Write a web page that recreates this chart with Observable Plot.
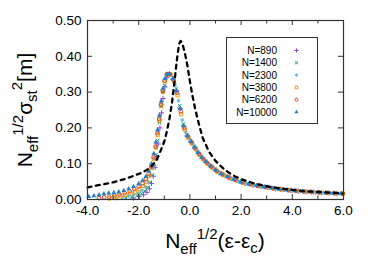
<!DOCTYPE html>
<html><head><meta charset="utf-8">
<script src="https://cdn.jsdelivr.net/npm/d3@7"></script>
<script src="https://cdn.jsdelivr.net/npm/@observablehq/plot@0.6"></script>
<style>html,body{margin:0;padding:0;background:#fff}</style>
</head><body><div id="chart"></div>
<script>
// ---- data (x = Neff^1/2 (ε-εc), y = Neff^1/2 σst^2[m]) ----
const seriesLabels = ["N=890","N=1400","N=2300","N=3800","N=6200","N=10000"];

const n890 = [[-2.2,0.004],[-1.98,0.008],[-1.81,0.013],[-1.68,0.02],[-1.58,0.03],[-1.5,0.045],[-1.43,0.065],[-1.36,0.09],[-1.3,0.12],[-1.24,0.155],[-1.17,0.2],[-1.11,0.242],[-1.05,0.282],[-0.98,0.315],[-0.9,0.34],
 [-0.8,0.35],[-0.66,0.336],[-0.52,0.304],[-0.38,0.254],[-0.24,0.205],[-0.1,0.178],[0.04,0.162],[0.19,0.145],[0.34,0.129],[0.5,0.115],[0.67,0.102],[0.86,0.09],[1.06,0.079],[1.3,0.069],[1.56,0.06],[1.84,0.053],[2.14,0.046],[2.44,0.041],[2.74,0.037],[3.04,0.034],[3.34,0.03],[3.64,0.028],[3.94,0.0255],[4.24,0.0236],[4.54,0.0218],[4.84,0.0206],[5.14,0.0195],[5.44,0.0182],[5.74,0.017]];

const n1400 = [[-2.5,0.004],[-2.27,0.007],[-2.06,0.011],[-1.89,0.016],[-1.75,0.024],[-1.64,0.034],[-1.55,0.048],[-1.47,0.068],[-1.4,0.093],[-1.33,0.125],[-1.26,0.165],[-1.19,0.215],[-1.12,0.26],[-1.05,0.3],[-0.98,0.318],[-0.9,0.345],
 [-0.82,0.35],[-0.68,0.34],[-0.54,0.31],[-0.4,0.262],[-0.26,0.211],[-0.12,0.181],[0.02,0.164],[0.16,0.148],[0.3,0.133],[0.45,0.119],[0.6,0.107],[0.78,0.095],[0.97,0.084],[1.18,0.074],[1.42,0.065],[1.68,0.057],[1.96,0.05],[2.26,0.044],[2.56,0.039],[2.86,0.036],[3.16,0.032],[3.46,0.029],[3.76,0.027],[4.06,0.0246],[4.36,0.0228],[4.66,0.0214],[4.96,0.0202],[5.26,0.019],[5.56,0.0178],[5.86,0.0166]];

const n2300 = [[-2.85,0.003],[-2.62,0.006],[-2.4,0.009],[-2.2,0.013],[-2.02,0.018],[-1.87,0.025],[-1.74,0.035],[-1.63,0.048],[-1.54,0.066],[-1.46,0.088],[-1.38,0.115],[-1.31,0.148],[-1.24,0.188],[-1.17,0.23],[-1.1,0.27],[-1.03,0.31],[-0.96,0.335],[-0.87,0.35],
 [-0.74,0.347],[-0.58,0.32],[-0.44,0.276],[-0.3,0.222],[-0.16,0.188],[-0.02,0.169],[0.12,0.153],[0.27,0.136],[0.42,0.121],[0.58,0.109],[0.75,0.097],[0.94,0.086],[1.14,0.076],[1.38,0.067],[1.62,0.059],[1.9,0.052],[2.2,0.045],[2.5,0.04],[2.8,0.036],[3.1,0.033],[3.4,0.03],[3.7,0.027],[4.0,0.025],[4.3,0.023],[4.6,0.0216],[4.9,0.0204],[5.2,0.0192],[5.5,0.018],[5.8,0.0168]];

const n3800 = [[-3.15,0.003],[-2.93,0.006],[-2.72,0.009],[-2.52,0.013],[-2.32,0.017],[-2.14,0.022],[-1.97,0.029],[-1.83,0.038],[-1.7,0.05],[-1.59,0.066],[-1.49,0.088],[-1.41,0.113],[-1.33,0.145],[-1.26,0.18],[-1.19,0.22],[-1.12,0.262],[-1.05,0.3],[-0.98,0.33],[-0.89,0.35],
 [-0.76,0.349],[-0.62,0.329],[-0.48,0.291],[-0.34,0.238],[-0.2,0.195],[-0.06,0.173],[0.08,0.157],[0.23,0.141],[0.38,0.125],[0.54,0.112],[0.7,0.1],[0.88,0.089],[1.08,0.078],[1.3,0.069],[1.54,0.061],[1.8,0.054],[2.08,0.047],[2.38,0.042],[2.68,0.038],[2.98,0.034],[3.28,0.031],[3.58,0.028],[3.88,0.026],[4.18,0.024],[4.48,0.0221],[4.78,0.0209],[5.08,0.0197],[5.38,0.0185],[5.68,0.0173],[5.98,0.0161]];

const n6200 = [[-3.55,0.004],[-3.35,0.006],[-3.15,0.008],[-2.95,0.011],[-2.75,0.014],[-2.55,0.018],[-2.35,0.023],[-2.17,0.029],[-2.0,0.036],[-1.85,0.045],[-1.72,0.057],[-1.61,0.072],[-1.51,0.092],[-1.42,0.118],[-1.34,0.148],[-1.27,0.185],[-1.2,0.225],[-1.13,0.265],[-1.06,0.303],[-0.99,0.332],[-0.9,0.349],
 [-0.78,0.35],[-0.64,0.334],[-0.5,0.298],[-0.36,0.246],[-0.22,0.2],[-0.08,0.176],[0.06,0.16],[0.2,0.144],[0.35,0.128],[0.5,0.115],[0.66,0.103],[0.84,0.092],[1.04,0.08],[1.26,0.071],[1.5,0.062],[1.76,0.055],[2.04,0.048],[2.34,0.043],[2.64,0.038],[2.94,0.035],[3.24,0.031],[3.54,0.029],[3.84,0.026],[4.14,0.024],[4.44,0.0224],[4.74,0.021],[5.04,0.0198],[5.34,0.0186],[5.64,0.0174],[5.94,0.0162]];

const n10000 = [[-3.95,0.008],[-3.75,0.01],[-3.55,0.013],[-3.36,0.016],[-3.17,0.018],[-2.97,0.019],[-2.78,0.021],[-2.58,0.025],[-2.39,0.03],[-2.2,0.036],[-2.0,0.044],[-1.85,0.053],[-1.72,0.064],[-1.6,0.079],[-1.5,0.1],[-1.41,0.128],[-1.33,0.16],[-1.26,0.195],[-1.19,0.235],[-1.12,0.275],[-1.05,0.31],[-0.97,0.338],[-0.89,0.35],
 [-0.8,0.351],[-0.66,0.337],[-0.52,0.303],[-0.38,0.254],[-0.24,0.206],[-0.1,0.178],[0.04,0.162],[0.18,0.146],[0.32,0.131],[0.46,0.118],[0.62,0.106],[0.8,0.094],[1.0,0.082],[1.22,0.072],[1.46,0.064],[1.72,0.056],[2.0,0.049],[2.3,0.043],[2.6,0.039],[2.9,0.035],[3.2,0.032],[3.5,0.029],[3.8,0.027],[4.1,0.0245],[4.4,0.0226],[4.7,0.0212],[5.0,0.02],[5.3,0.0188],[5.6,0.0176],[5.9,0.0164]];

const dashedCurve = [[-4,0.034],[-3.5,0.041],[-3,0.048],[-2.5,0.058],[-2.2,0.066],[-1.9,0.074],[-1.67,0.083],[-1.5,0.093],[-1.3,0.11],[-1.15,0.135],[-1.0,0.162],[-0.9,0.19],[-0.8,0.225],[-0.7,0.27],[-0.6,0.33],[-0.5,0.395],[-0.42,0.435],[-0.36,0.443],[-0.3,0.437],[-0.2,0.41],[-0.1,0.375],[0,0.33],[0.1,0.29],[0.2,0.255],[0.3,0.225],[0.4,0.198],[0.5,0.172],[0.75,0.133],[1.0,0.108],[1.25,0.09],[1.5,0.076],[1.75,0.065],[2,0.057],[2.5,0.045],[3,0.037],[3.5,0.031],[4,0.027],[4.5,0.023],[5,0.021],[5.5,0.019],[6,0.017]];

const xMajorTicks = [-4,-2,0,2,4,6];
const xMinorTicks = [-3,-1,1,3,5];
const yTicks = [0,0.1,0.2,0.3,0.4,0.5];

// ---- styles ----
const seriesData = [n890, n1400, n2300, n3800, n6200, n10000];
const styles = [
  {symbol:"plus",     color:"#a040e0", filled:false, d3s:d3.symbolPlus},
  {symbol:"times",    color:"#139e78", filled:false, d3s:d3.symbolTimes},
  {symbol:"asterisk", color:"#56b4e9", filled:false, d3s:d3.symbolAsterisk},
  {symbol:"square",   color:"#e6a000", filled:false, d3s:d3.symbolSquare},
  {symbol:"circle",   color:"#e8402a", filled:false, d3s:d3.symbolCircle},
  {symbol:"triangle", color:"#2a7fc0", filled:true,  d3s:d3.symbolTriangle}
];
const R = 1.85;

const W = 374, H = 262, ML = 87, MR = 31, MT = 20, MB = 63;
const fw = W - ML - MR, fh = H - MT - MB;
const frameColor = "#333";

const dotMarks = seriesData.map((data, i) => {
  const s = styles[i];
  return Plot.dot(data, {
    x: d => d[0], y: d => d[1], symbol: s.symbol, r: R,
    stroke: s.filled ? "none" : s.color, fill: s.filled ? s.color : "none",
    strokeWidth: 1
  });
});

const svg = Plot.plot({
  width: W, height: H,
  marginLeft: ML, marginRight: MR, marginTop: MT, marginBottom: MB,
  style: {fontFamily: "'Liberation Sans', Arial, sans-serif", fontSize: "13.5px", color: "black", background: "white"},
  x: {domain: [-4, 6], axis: null},
  y: {domain: [0, 0.5], axis: null},
  marks: [
    ...dotMarks,
    Plot.line(dashedCurve, {x: d => d[0], y: d => d[1], stroke: "black", strokeWidth: 2.3, strokeDasharray: "4,4.5"}),
    Plot.frame({stroke: frameColor, strokeWidth: 1.2}),
    // inward ticks
    Plot.tickX(xMajorTicks, {x: d => d, insetTop: fh - 5, stroke: frameColor}),
    Plot.tickX(xMinorTicks, {x: d => d, insetTop: fh - 3.5, stroke: frameColor}),
    Plot.tickX(xMajorTicks, {x: d => d, insetBottom: fh - 5, stroke: frameColor}),
    Plot.tickX(xMinorTicks, {x: d => d, insetBottom: fh - 3.5, stroke: frameColor}),
    Plot.tickY(yTicks, {y: d => d, insetRight: fw - 5, stroke: frameColor}),
    Plot.tickY(yTicks, {y: d => d, insetLeft: fw - 5, stroke: frameColor}),
    Plot.axisX({ticks: xMajorTicks, tickSize: 0, tickPadding: 6, tickFormat: d => d.toFixed(1), label: null, fontSize: 13.5}),
    Plot.axisY({ticks: yTicks, tickSize: 0, tickPadding: 6, tickFormat: d => d.toFixed(2), label: null, fontSize: 13.5})
  ]
});
document.getElementById("chart").appendChild(svg);

// ---- axis labels with sub/superscripts ----
const root = d3.select(svg);
function rich(g, parts) {
  const t = g.append("text").attr("text-anchor", "middle").attr("fill", "black")
    .style("font-family", "'Liberation Sans', Arial, sans-serif");
  parts.forEach(([txt, size, dy]) => {
    t.append("tspan").attr("font-size", size).attr("dy", dy).text(txt);
  });
  return t;
}
rich(root.append("g").attr("transform", "translate(215,248)"),
  [["N",21,0],["eff",15,6],["1/2",15,-15],["(ε-ε",21,9],["c",15,5],[")",21,-5]]);
rich(root.append("g").attr("transform", "translate(32,110) rotate(-90)"),
  [["N",21,0],["eff",15,6],["1/2",15,-15],["σ",21,9],["st",15,5],["2",15,-15],["[m]",21,10]]);

// ---- legend ----
const lg = root.append("g");
lg.append("rect").attr("x", 226.5).attr("y", 37.5).attr("width", 91).attr("height", 86)
  .attr("fill", "white").attr("stroke", frameColor).attr("stroke-width", 1);
seriesLabels.forEach((lab, i) => {
  const yy = 50.5 + i * 12.3;
  lg.append("text").attr("x", 277).attr("y", yy).attr("dy", "0.35em").attr("text-anchor", "end")
    .attr("font-size", 10).attr("fill", "black")
    .style("font-family", "'Liberation Sans', Arial, sans-serif").text(lab);
  const s = styles[i];
  lg.append("path").attr("transform", `translate(296.5,${yy})`)
    .attr("d", d3.symbol(s.d3s, Math.PI * 1.5 * 1.5)())
    .attr("fill", s.filled ? s.color : "none").attr("stroke", s.filled ? "none" : s.color).attr("stroke-width", 1);
});
</script>
</body></html>
